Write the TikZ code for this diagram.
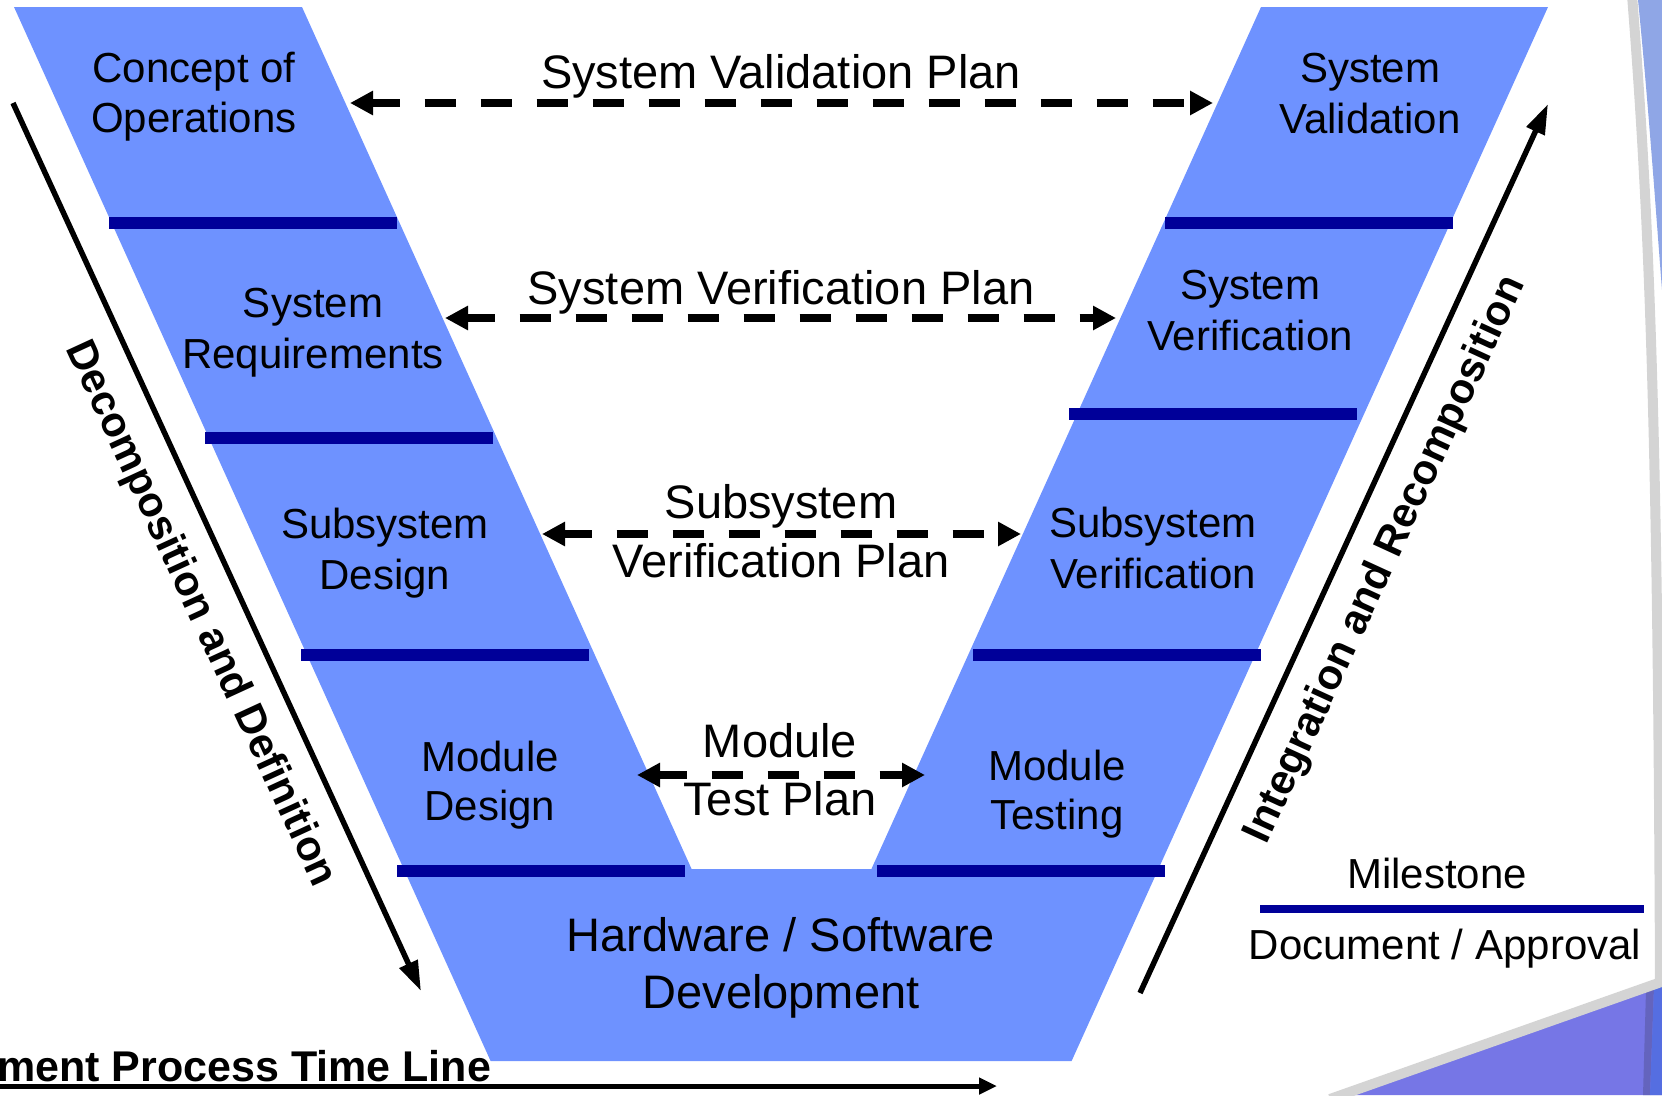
\documentclass[tikz,border=0pt]{standalone}
\usepackage{fontspec}
\setmainfont{Liberation Sans}
\usetikzlibrary{arrows.meta}
\definecolor{vfill}{RGB}{110,146,255}
\definecolor{mstone}{RGB}{0,0,153}
\definecolor{decogray}{RGB}{212,212,212}
\definecolor{decoblue}{RGB}{143,166,230}
\definecolor{decopurple}{RGB}{118,118,230}
\definecolor{decodark}{RGB}{100,100,190}
\definecolor{decoblueb}{RGB}{85,110,225}
\begin{document}
\begin{tikzpicture}[x=1pt,y=-1pt,
  milestone/.style={draw=mstone, line width=12pt},
  bandtext/.style={font=\fontsize{42}{50}\selectfont, anchor=base, inner sep=0pt},
  plantext/.style={font=\fontsize{47}{56}\selectfont, anchor=base, inner sep=0pt},
  sidetext/.style={font=\fontsize{42}{50}\selectfont\bfseries, inner sep=0pt},
  planarrow/.style={line width=8pt, dash pattern=on 31pt off 25pt, dash phase=3pt,
    {Triangle[length=23pt,width=23pt]}-{Triangle[length=23pt,width=23pt]}},
  flowarrow/.style={line width=5.5pt, -{Triangle[length=30pt,width=19pt]}},
]
\useasboundingbox (0,0) rectangle (1662,1095);
% background decorations
\fill[decoblue] (1638,0) .. controls (1648,100) and (1655,200) .. (1662,290) -- (1662,0) -- cycle;
\draw[decogray, line width=10pt] (1632,-5) .. controls (1648,200) and (1658,400) .. (1660,990);
\fill[decopurple] (1345,1095) -- (1662,985) -- (1662,1095) -- cycle;
\fill[decodark] (1646,990) -- (1654,987) -- (1650,1095) -- (1643,1095) -- cycle;
\fill[decoblueb] (1654,987) -- (1662,984) -- (1662,1095) -- (1650,1095) -- cycle;
\draw[decogray, line width=10pt] (1330,1099) -- (1664,981);
% V shape
\fill[vfill] (14,7) -- (302,7) -- (691.6,869) -- (871.4,869) -- (1261,7) -- (1548,7)
  -- (1071.6,1061) -- (490.6,1061) -- cycle;
% milestones
\draw[milestone] (109,223) -- (397,223);
\draw[milestone] (205,438) -- (493,438);
\draw[milestone] (301,655) -- (589,655);
\draw[milestone] (397,871) -- (685,871);
\draw[milestone] (1165,223) -- (1453,223);
\draw[milestone] (1069,414) -- (1357,414);
\draw[milestone] (973,655) -- (1261,655);
\draw[milestone] (877,871) -- (1165,871);
% band texts
\node[bandtext] (c1) at (194,82) {Concept of};
\node[bandtext] (c2) at (194,132) {Operations};
\node[bandtext] (r1) at (313,317) {System};
\node[bandtext] (r2) at (313,368) {Requirements};
\node[bandtext] (s1) at (385,538) {Subsystem};
\node[bandtext] (s2) at (385,589) {Design};
\node[bandtext] (m1) at (490,771) {Module};
\node[bandtext] (m2) at (490,820) {Design};
\node[bandtext] (sv1) at (1370,82) {System};
\node[bandtext] (sv2) at (1370,133) {Validation};
\node[bandtext] (sf1) at (1250,299) {System};
\node[bandtext] (sf2) at (1250,350) {Verification};
\node[bandtext] (ss1) at (1153,537) {Subsystem};
\node[bandtext] (ss2) at (1153,588) {Verification};
\node[bandtext] (mt1) at (1057,780) {Module};
\node[bandtext] (mt2) at (1057,829) {Testing};
\node[plantext] (hw1) at (781,951) {Hardware / Software};
\node[plantext] (hw2) at (781,1008) {Development};
% plan texts
\node[plantext] (p1) at (781,88) {System Validation Plan};
\node[plantext] (p2) at (781,304) {System Verification Plan};
\node[plantext] (p3a) at (781,518) {Subsystem};
\node[plantext] (p3b) at (781,577) {Verification Plan};
\node[plantext] (p4a) at (780,757) {Module};
\node[plantext] (p4b) at (780,815) {Test Plan};
% plan arrows
\coordinate (a1L) at (350,103); \coordinate (a1R) at (1213,103);
\coordinate (a2L) at (445,318); \coordinate (a2R) at (1116,318);
\coordinate (a3L) at (542,534); \coordinate (a3R) at (1021,534);
\coordinate (a4L) at (637,775); \coordinate (a4R) at (925,775);
\draw[planarrow] (a1L) -- (a1R);
\draw[planarrow] (a2L) -- (a2R);
\draw[planarrow] (a3L) -- (a3R);
\draw[planarrow] (a4L) -- (a4R);
% side arrows
\coordinate (dA) at (13,103); \coordinate (dB) at (421,991);
\coordinate (iA) at (1140,993); \coordinate (iB) at (1548,104);
\draw[flowarrow] (dA) -- (dB);
\draw[flowarrow] (iA) -- (iB);
\node[sidetext, rotate=-65.3] (dec) at (200,614) {Decomposition and Definition};
\node[sidetext, rotate=65.3] (int) at (1386,560) {Integration and Recomposition};
% legend
\node[bandtext] (ms) at (1437,888) {Milestone};
\draw[mstone, line width=7.5pt] (1260,909) -- (1644,909);
\node[bandtext] (doc) at (1445,959) {Document / Approval};
% time line
\node[sidetext, anchor=base west, font=\fontsize{43}{50}\selectfont\bfseries] (tl) at (-3,1081) {ment Process Time Line};
\coordinate (tA) at (-5,1086); \coordinate (tB) at (997,1086);
\draw[line width=5pt, -{Triangle[length=18pt,width=16pt]}] (tA) -- (tB);
\end{tikzpicture}
\end{document}
